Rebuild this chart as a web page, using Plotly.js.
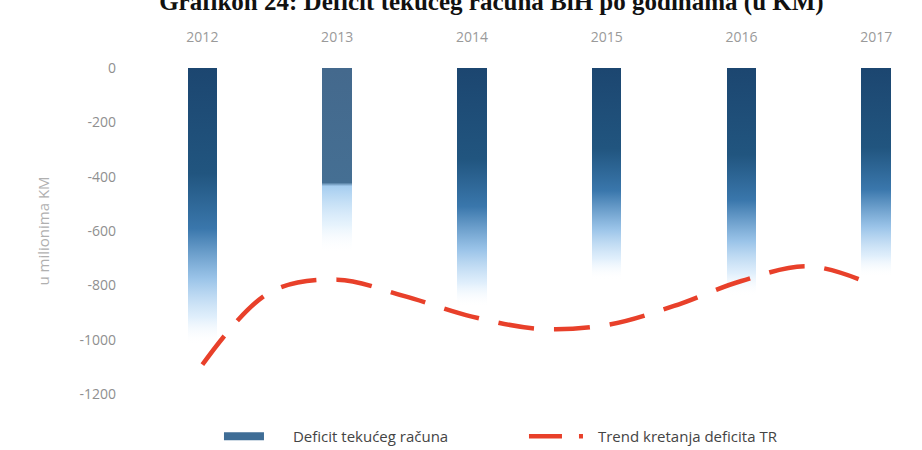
<!DOCTYPE html>
<html>
<head>
<meta charset="utf-8">
<script src="https://cdn.plot.ly/plotly-3.0.1.min.js"></script>
<style>html,body{margin:0;padding:0;background:#fff;}#chart{width:922px;height:450px;}</style>
</head>
<body>
<div id="chart"></div>
<script>
// Data
var years = [2012, 2013, 2014, 2015, 2016, 2017];
var deficit = [-1020, -680, -880, -780, -840, -770];
// trend curve at half-year steps
var trendYears = [2012, 2012.5, 2013, 2013.5, 2014, 2014.5, 2015, 2015.5, 2016, 2016.5, 2017];
var trend = [-1092, -826, -779, -840, -915, -960, -946, -876, -784, -730, -803];
var yTicks = [0, -200, -400, -600, -800, -1000, -1200];

var barTrace = {
  type: 'bar', x: years, y: deficit, name: 'Deficit tekućeg računa',
  width: 0.22, marker: {color: '#3f6d96', line: {width: 0}},
  hoverinfo: 'x+y'
};
var trendTrace = {
  type: 'scatter', mode: 'lines', x: trendYears, y: trend, name: 'Trend kretanja deficita TR',
  line: {color: '#e8402a', width: 4.5, dash: '36px,20px', shape: 'spline', smoothing: 1}
};

var layout = {
  width: 922, height: 450,
  margin: {l: 135, r: 0, t: 68, b: 56, autoexpand: false},
  paper_bgcolor: '#ffffff', plot_bgcolor: '#ffffff',
  title: {text: '<b>Grafikon 24: Deficit tekućeg računa BiH po godinama (u KM)</b>',
    font: {family: 'Liberation Serif', size: 25, color: '#111'},
    x: 0.533, xref: 'container', xanchor: 'center', y: 0.997, yref: 'container', yanchor: 'middle'},
  xaxis: {type: 'linear', side: 'top', range: [2011.5, 2017.34], tickvals: years,
    ticktext: years.map(String), showgrid: false, zeroline: false,
    showline: false, ticks: '', ticklabelstandoff: 22,
    tickfont: {family: 'Open Sans', size: 14, color: '#9a9a9a'}},
  yaxis: {range: [-1200, 0], tickvals: yTicks, ticktext: yTicks.map(String), showgrid: false,
    zeroline: false, showline: false, ticks: '', ticklen: 0, ticklabelstandoff: 18,
    tickfont: {family: 'Open Sans', size: 14, color: '#8f8f8f'},
    title: {text: 'u milionima KM', font: {family: 'Open Sans', size: 15, color: '#b0b0b0'}, standoff: 26}},
  showlegend: true,
  legend: {orientation: 'h', x: 0.1067, xanchor: 'left', y: -0.13, yanchor: 'middle',
    font: {family: 'Open Sans', size: 15, color: '#444'}, itemwidth: 40,
    entrywidth: 250, entrywidthmode: 'pixels', bgcolor: 'rgba(0,0,0,0)'},
  bargap: 0
};

Plotly.newPlot('chart', [barTrace, trendTrace], layout, {displayModeBar: false, staticPlot: true}).then(function(gd){
  var svg = gd.querySelector('svg.main-svg');
  var ns = 'http://www.w3.org/2000/svg';
  var defs = svg.querySelector('defs') || svg.insertBefore(document.createElementNS(ns, 'defs'), svg.firstChild);
  function grad(id, stops){
    var g = document.createElementNS(ns, 'linearGradient');
    g.setAttribute('id', id); g.setAttribute('x1', '0'); g.setAttribute('y1', '0');
    g.setAttribute('x2', '0'); g.setAttribute('y2', '1');
    stops.forEach(function(s){
      var st = document.createElementNS(ns, 'stop');
      st.setAttribute('offset', s[0]); st.setAttribute('stop-color', s[1]);
      st.setAttribute('stop-opacity', s[2]);
      g.appendChild(st);
    });
    defs.appendChild(g);
  }
  grad('gMain', [['0%', '#1c4670', 1], ['38%', '#21557f', 1], ['58%', '#3a77ac', 1], ['76%', '#8fbde6', 0.9], ['90%', '#d3e8fa', 0.7], ['100%', '#ffffff', 0]]);
  grad('g2013', [['0%', '#44698d', 1], ['62%', '#456f93', 1], ['64%', '#9cc8ee', 0.9], ['85%', '#d6ebfb', 0.6], ['100%', '#ffffff', 0]]);
  var paths = gd.querySelectorAll('.barlayer .point path');
  paths.forEach(function(p, i){
    p.style.fill = (i === 1) ? 'url(#g2013)' : 'url(#gMain)';
    p.style.stroke = 'none';
  });
  // legend: wide bar swatch, dash + dot line swatch, larger gap before the texts
  var legPts = gd.querySelectorAll('.legend .legendpoints');
  if (legPts[0]) {
    var bp = legPts[0].querySelector('path');
    if (bp) { bp.setAttribute('d', 'M20,4H-20V-4H20Z'); }
  }
  var lineSw = gd.querySelector('.legend .legendlines path');
  if (lineSw) {
    lineSw.setAttribute('d', 'M5,0h54');
    lineSw.style.strokeDasharray = '33px,17px,4px,100px';
  }
  gd.querySelectorAll('.legend .legendtext').forEach(function(t){
    var x = parseFloat(t.getAttribute('x')) || 0;
    t.setAttribute('x', x + 24);
  });
});
</script>
</body>
</html>
